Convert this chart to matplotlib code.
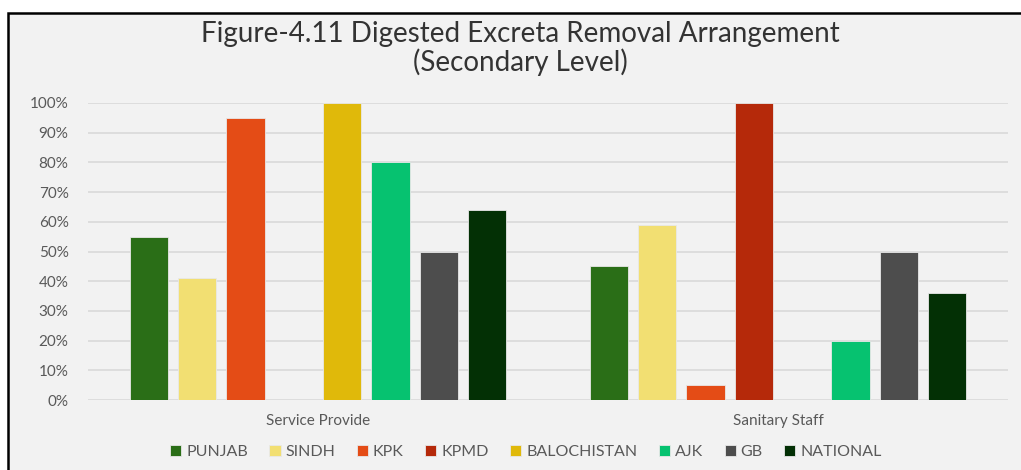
import numpy as np
import matplotlib.pyplot as plt
from matplotlib.patches import Rectangle

categories = ["Service Provide", "Sanitary Staff"]
regions = ["PUNJAB", "SINDH", "KPK", "KPMD", "BALOCHISTAN", "AJK", "GB", "NATIONAL"]
colors = ["#2a6e17", "#f2df72", "#e44c16", "#b5290a", "#e0b90a", "#06c270", "#4d4d4d", "#033005"]

punjab = [55, 45]
sindh = [41, 59]
kpk = [95, 5]
kpmd = [0, 100]
balochistan = [100, 0]
ajk = [80, 20]
gb = [50, 50]
national = [64, 36]
series = [punjab, sindh, kpk, kpmd, balochistan, ajk, gb, national]

plt.rcParams["font.family"] = ["Lato", "DejaVu Sans"]

fig = plt.figure(figsize=(10.21, 4.70), dpi=100, facecolor="white")
fig.patches.append(Rectangle((8 / 1021, -0.01), 1.05, 1 - 13 / 470 + 0.01,
                             transform=fig.transFigure, facecolor="#f2f2f2",
                             edgecolor="black", linewidth=1.8, zorder=-5))

ax = fig.add_axes([88 / 1021, 1 - 400 / 470, 920 / 1021, 297 / 470])
ax.set_facecolor("none")

x = np.arange(len(categories))
pitch = 0.105
width = 0.083
for i, (name, vals, c) in enumerate(zip(regions, series, colors)):
    offs = (i - (len(regions) - 1) / 2) * pitch
    ax.bar(x + offs, vals, width, color=c, label=name, zorder=3,
           edgecolor="#e8e8e8", linewidth=0.6)

ax.set_xlim(-0.5, 1.5)
ax.set_ylim(0, 100)
ax.set_yticks(np.arange(0, 101, 10))
ax.set_yticklabels([f"{v}%" for v in range(0, 101, 10)])
ax.set_xticks(x)
ax.set_xticklabels(categories)
ax.tick_params(axis="both", length=0, colors="#595959", labelsize=11)
ax.tick_params(axis="y", pad=14)
ax.tick_params(axis="x", pad=10)
ax.grid(axis="y", color="#d9d9d9", linewidth=1.2, zorder=0)
for s in ax.spines.values():
    s.set_visible(False)

fig.text(0.51, 1 - 34 / 470, "Figure-4.11 Digested Excreta Removal Arrangement",
         ha="center", va="center", fontsize=20, color="#333333")
fig.text(0.51, 1 - 62 / 470, "(Secondary Level)",
         ha="center", va="center", fontsize=20, color="#333333")

fig.legend(loc="center", bbox_to_anchor=(0.515, 1 - 452 / 470), ncol=8,
           frameon=False, fontsize=11.5, handlelength=0.7, handleheight=0.7,
           handletextpad=0.3, columnspacing=1.35, labelcolor="#595959")

fig.savefig("out.png", dpi=100)
